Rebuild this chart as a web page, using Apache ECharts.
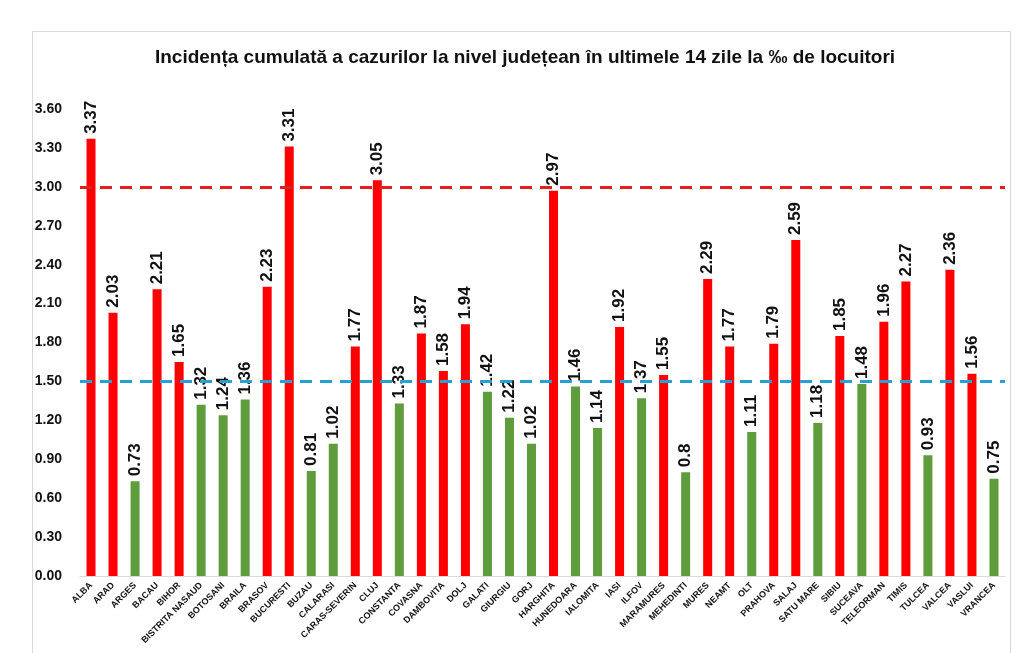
<!DOCTYPE html>
<html>
<head>
<meta charset="utf-8">
<script src="https://cdn.jsdelivr.net/npm/echarts@6/dist/echarts.min.js"></script>
<style>
	html, body { margin: 0; padding: 0; background: #fff; }
	#frame { position: absolute; left: 32px; top: 31px; width: 979px; height: 640px; border: 1px solid #d9d9d9; box-sizing: border-box; }
	#chart { position: absolute; left: 0; top: 0; width: 1024px; height: 653px; }
</style>
</head>
<body>
<div id="frame"></div>
<div id="chart"></div>
<script>
var judete = ['ALBA', 'ARAD', 'ARGES', 'BACAU', 'BIHOR', 'BISTRITA NASAUD', 'BOTOSANI', 'BRAILA', 'BRASOV', 'BUCURESTI',
	'BUZAU', 'CALARASI', 'CARAS-SEVERIN', 'CLUJ', 'CONSTANTA', 'COVASNA', 'DAMBOVITA', 'DOLJ', 'GALATI', 'GIURGIU',
	'GORJ', 'HARGHITA', 'HUNEDOARA', 'IALOMITA', 'IASI', 'ILFOV', 'MARAMURES', 'MEHEDINTI', 'MURES', 'NEAMT',
	'OLT', 'PRAHOVA', 'SALAJ', 'SATU MARE', 'SIBIU', 'SUCEAVA', 'TELEORMAN', 'TIMIS', 'TULCEA', 'VALCEA',
	'VASLUI', 'VRANCEA'];
var incidenta = [3.37, 2.03, 0.73, 2.21, 1.65, 1.32, 1.24, 1.36, 2.23, 3.31,
	0.81, 1.02, 1.77, 3.05, 1.33, 1.87, 1.58, 1.94, 1.42, 1.22,
	1.02, 2.97, 1.46, 1.14, 1.92, 1.37, 1.55, 0.8, 2.29, 1.77,
	1.11, 1.79, 2.59, 1.18, 1.85, 1.48, 1.96, 2.27, 0.93, 2.36,
	1.56, 0.75];
var pragRosu = 3.0;   // scenariu rosu
var pragGalben = 1.5; // scenariu galben
var yTicks = { min: 0, max: 3.6, interval: 0.3 };

var font = "'Liberation Sans', Arial, sans-serif";

var myChart = echarts.init(document.getElementById('chart'));
var options = {
	animation: false,
	textStyle: { fontFamily: font },
	title: {
		text: 'Incidența cumulată a cazurilor la nivel județean în ultimele 14 zile la ‰ de locuitori',
		left: 520,
		textAlign: 'center',
		top: 43,
		textStyle: { fontFamily: font, fontSize: 19, fontWeight: 'bold', color: '#111' }
	},
	grid: { left: 80, right: 19, top: 109, bottom: 77 },
	xAxis: {
		type: 'category',
		data: judete,
		axisLine: { lineStyle: { color: '#d9d9d9', width: 1 } },
		axisTick: { show: false },
		axisLabel: {
			interval: 0,
			rotate: 45,
			margin: 8,
			fontSize: 9,
			fontWeight: 'bold',
			color: '#111',
			fontFamily: font
		}
	},
	yAxis: {
		type: 'value',
		min: yTicks.min,
		max: yTicks.max,
		interval: yTicks.interval,
		axisLine: { show: false },
		axisTick: { show: false },
		splitLine: { show: false },
		axisLabel: {
			margin: 18,
			fontSize: 14,
			fontWeight: 'bold',
			color: '#111',
			fontFamily: font,
			formatter: function (v) { return v.toFixed(2); }
		}
	},
	series: [{
		type: 'bar',
		barWidth: 9,
		data: incidenta.map(function (v) {
			return { value: v, itemStyle: { color: v > pragGalben ? '#ff0000' : '#5e9c3c' } };
		}),
		label: {
			show: true,
			position: 'top',
			rotate: 90,
			align: 'left',
			verticalAlign: 'middle',
			distance: 5,
			fontSize: 17,
			fontWeight: 'bold',
			color: '#111',
			fontFamily: font,
			formatter: function (p) { return String(p.value); }
		},
		markLine: {
			silent: true,
			symbol: 'none',
			label: { show: false },
			z: 10,
			data: [
				{ yAxis: pragRosu, lineStyle: { color: '#e0201f', width: 3, type: [12, 8] } },
				{ yAxis: pragGalben, lineStyle: { color: '#2a9fd6', width: 3, type: [12, 8] } }
			]
		}
	}]
};
myChart.setOption(options);
</script>
</body>
</html>
